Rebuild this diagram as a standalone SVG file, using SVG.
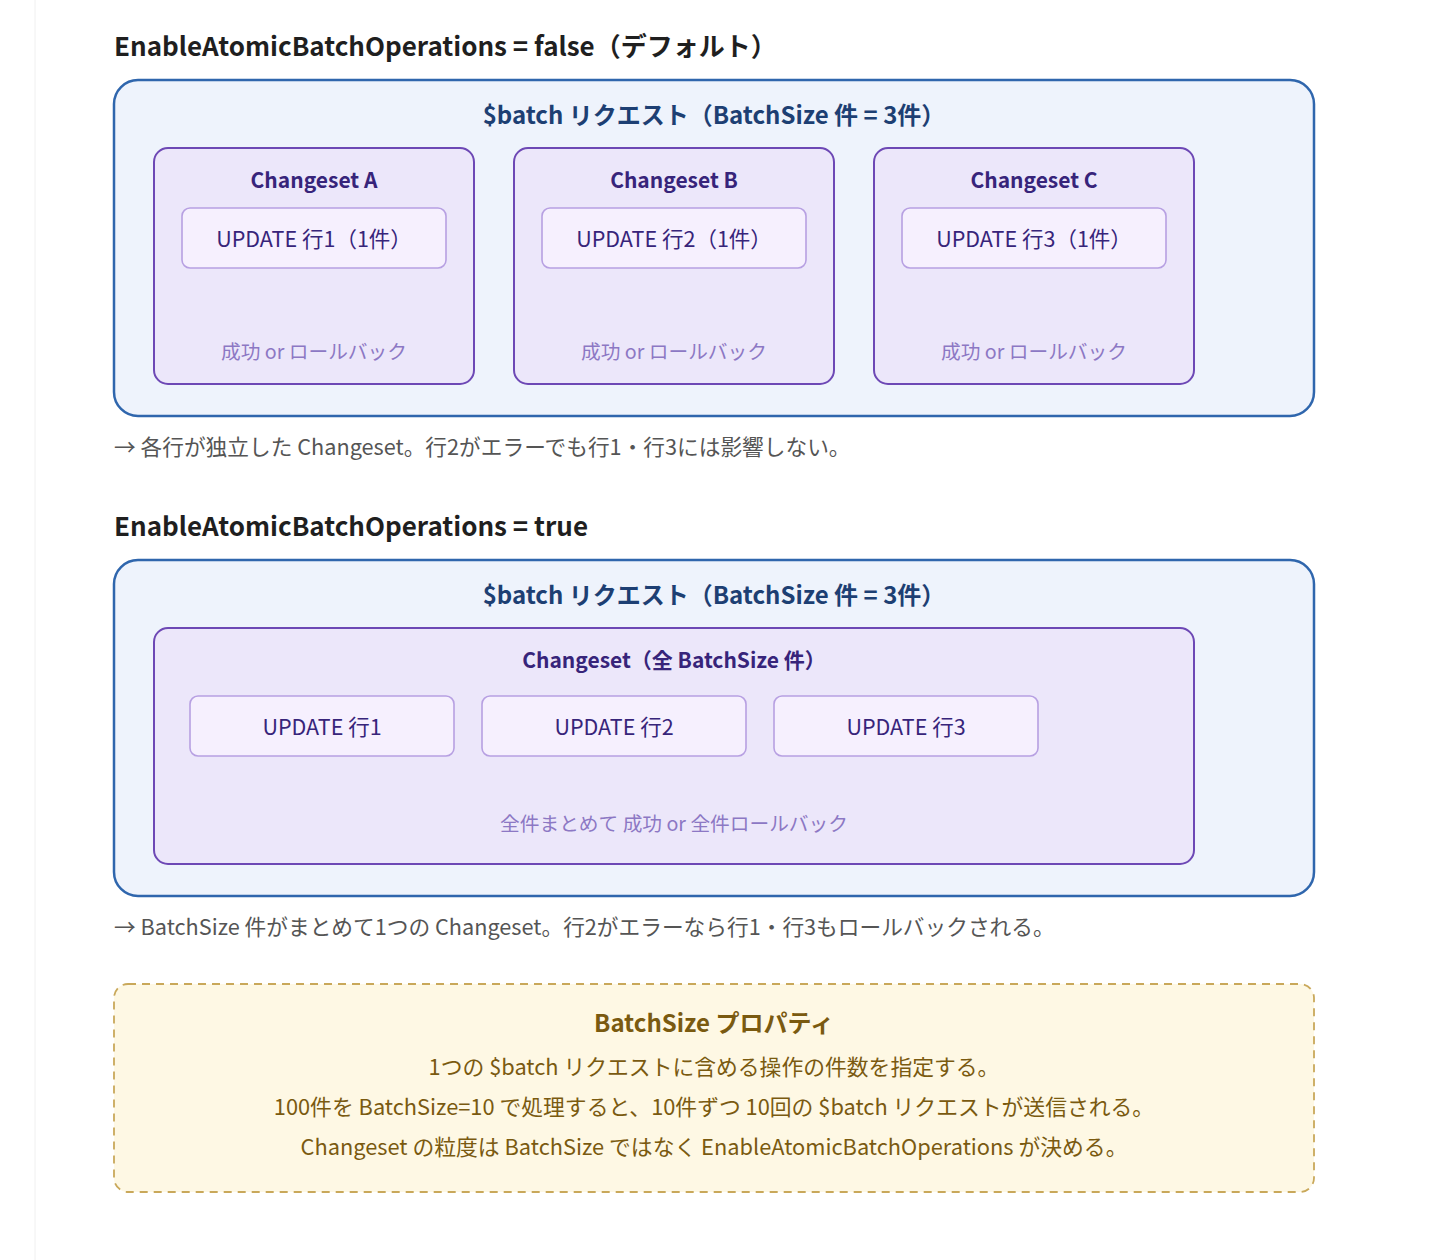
<svg xmlns="http://www.w3.org/2000/svg" width="1446" height="1260" viewBox="0 0 1446 1260">
<style>
text{font-family:"Noto Sans CJK JP","Noto Sans",sans-serif}
.h{font-size:26px;font-weight:bold;fill:#1f1f1f}
.outer{fill:#eef3fc;stroke:#2f66ad;stroke-width:2.5}
.ot{font-size:24px;font-weight:bold;fill:#1d3f73;text-anchor:middle}
.cs{fill:#ece7fa;stroke:#6d48b5;stroke-width:2}
.ct{font-size:21px;font-weight:bold;fill:#37247a;text-anchor:middle}
.up{fill:#f6f0fe;stroke:#b7a0e2;stroke-width:1.6}
.ut{font-size:21.5px;fill:#37247a;text-anchor:middle}
.st{font-size:19.7px;fill:#8c78c4;text-anchor:middle}
.note{font-size:21.7px;fill:#555}
.bt{font-size:24px;font-weight:bold;fill:#7a5a10;text-anchor:middle}
.bl{font-size:21.8px;fill:#7a5a10;text-anchor:middle}
</style>
<rect width="1446" height="1260" fill="#fff"/>
<line x1="35" y1="0" x2="35" y2="1260" stroke="#f0f0f0"/>
<text class="h" x="114" y="56">EnableAtomicBatchOperations = false（デフォルト）</text>
<g id="outer1"><rect class="outer" x="114" y="80" width="1200" height="336" rx="24"/><text class="ot" x="714" y="124">$batch リクエスト（BatchSize 件 = 3件）</text></g>
<g id="csA"><rect class="cs" x="154" y="148" width="320" height="236" rx="14"/><text class="ct" x="314" y="188">Changeset A</text><rect class="up" x="182" y="208" width="264" height="60" rx="8"/><text class="ut" x="314" y="247">UPDATE 行1（1件）</text><text class="st" x="314" y="359">成功 or ロールバック</text></g>
<g id="csB"><rect class="cs" x="514" y="148" width="320" height="236" rx="14"/><text class="ct" x="674" y="188">Changeset B</text><rect class="up" x="542" y="208" width="264" height="60" rx="8"/><text class="ut" x="674" y="247">UPDATE 行2（1件）</text><text class="st" x="674" y="359">成功 or ロールバック</text></g>
<g id="csC"><rect class="cs" x="874" y="148" width="320" height="236" rx="14"/><text class="ct" x="1034" y="188">Changeset C</text><rect class="up" x="902" y="208" width="264" height="60" rx="8"/><text class="ut" x="1034" y="247">UPDATE 行3（1件）</text><text class="st" x="1034" y="359">成功 or ロールバック</text></g>
<text class="note" x="114" y="455">→ 各行が独立した Changeset。行2がエラーでも行1・行3には影響しない。</text>
<text class="h" x="114" y="536">EnableAtomicBatchOperations = true</text>
<g id="outer2"><rect class="outer" x="114" y="560" width="1200" height="336" rx="24"/><text class="ot" x="714" y="604">$batch リクエスト（BatchSize 件 = 3件）</text></g>
<g id="csAll"><rect class="cs" x="154" y="628" width="1040" height="236" rx="14"/><text class="ct" x="674" y="668">Changeset（全 BatchSize 件）</text>
<rect class="up" x="190" y="696" width="264" height="60" rx="8"/><text class="ut" x="322" y="735">UPDATE 行1</text>
<rect class="up" x="482" y="696" width="264" height="60" rx="8"/><text class="ut" x="614" y="735">UPDATE 行2</text>
<rect class="up" x="774" y="696" width="264" height="60" rx="8"/><text class="ut" x="906" y="735">UPDATE 行3</text>
<text class="st" x="674" y="831">全件まとめて 成功 or 全件ロールバック</text></g>
<text class="note" x="114" y="935">→ BatchSize 件がまとめて1つの Changeset。行2がエラーなら行1・行3もロールバックされる。</text>
<g id="info"><rect x="114" y="984" width="1200" height="208" rx="14" fill="#fef8e4" stroke="#c9a85a" stroke-width="1.8" stroke-dasharray="8,6"/>
<text class="bt" x="714" y="1032">BatchSize プロパティ</text>
<text class="bl" x="714" y="1075">1つの $batch リクエストに含める操作の件数を指定する。</text>
<text class="bl" x="714" y="1115">100件を BatchSize=10 で処理すると、10件ずつ 10回の $batch リクエストが送信される。</text>
<text class="bl" x="714" y="1155">Changeset の粒度は BatchSize ではなく EnableAtomicBatchOperations が決める。</text></g>
</svg>
